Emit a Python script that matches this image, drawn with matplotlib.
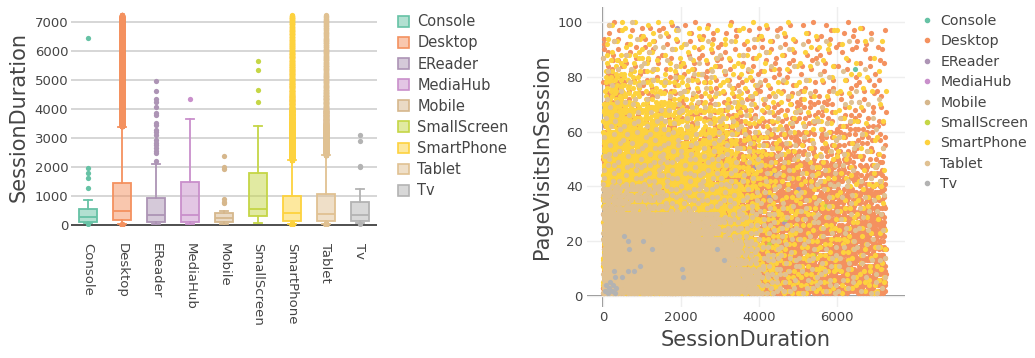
import numpy as np
import matplotlib.pyplot as plt
from matplotlib.patches import Patch
from matplotlib.lines import Line2D
from matplotlib.colors import to_rgba

plt.rcParams['font.family'] = ['DejaVu Sans']

devices = ['Console', 'Desktop', 'EReader', 'MediaHub', 'Mobile',
           'SmallScreen', 'SmartPhone', 'Tablet', 'Tv']
colors = ['#66c2a5', '#f4915f', '#ad94b5', '#c98fcb', '#d6b78c',
          '#c5d646', '#fdd23e', '#e0c192', '#b3b3b3']

# box summary per device (SessionDuration)
box_low = [58, 20, 20, 35, 35, 58, 35, 35, 58]
box_q1 = [115, 173, 115, 115, 115, 311, 149, 149, 149]
box_med = [265, 484, 334, 346, 230, 543, 405, 370, 346]
box_q3 = [542, 1465, 946, 1499, 400, 1810, 1003, 1073, 796]
box_high = [865, 3403, 2111, 3668, 484, 3436, 2249, 2412, 1246]

# sparse devices: (SessionDuration, PageVisitsInSession)
console_x = [30, 60, 90, 115, 150, 200, 240, 265, 300, 350, 420, 480, 540,
             600, 700, 865, 1269, 1615, 1788, 1961, 6459]
console_y = [2, 5, 3, 8, 12, 4, 6, 15, 9, 3, 20, 7, 11, 5, 14, 10, 22, 18,
             6, 25, 83]
ereader_x = [20, 45, 70, 100, 115, 150, 200, 260, 334, 380, 450, 520, 600,
             700, 800, 946, 1200, 1500, 1900, 2111, 2215, 2480, 2572, 2664,
             2757, 2849, 2941, 3114, 3230, 3300, 3449, 3541, 3818, 3887,
             4095, 4268, 4368, 4648, 4994]
ereader_y = [3, 6, 2, 9, 12, 5, 18, 7, 4, 22, 11, 8, 15, 27, 6, 19, 13, 30,
             98, 24, 17, 35, 21, 28, 40, 16, 33, 26, 38, 34, 29, 42, 25, 47,
             31, 36, 45, 27, 39]
mediahub_x = [35, 60, 90, 115, 180, 250, 346, 420, 600, 900, 1200, 1499,
              2000, 2600, 3100, 3668, 4360]
mediahub_y = [4, 8, 2, 11, 6, 15, 9, 21, 5, 13, 18, 26, 10, 31, 22, 17, 28]
mobile_x = [35, 60, 115, 150, 190, 230, 280, 330, 400, 484, 750, 807, 888,
            1938, 2018, 2399]
mobile_y = [3, 7, 2, 10, 5, 14, 8, 4, 12, 6, 18, 9, 15, 11, 20, 7]
smallscreen_x = [58, 150, 240, 311, 420, 543, 800, 1200, 1810, 2500, 3436,
                 4266, 4671, 5374, 5685]
smallscreen_y = [5, 12, 3, 18, 8, 25, 14, 31, 10, 22, 36, 19, 28, 15, 33]
tv_x = [40, 80, 120, 150, 180, 220, 260, 300, 330, 282, 308, 487, 540, 640,
        640, 675, 795, 946, 1017, 1246, 2018, 2052, 2917, 3114]
tv_y = [2, 4, 1, 3, 5, 2, 4, 1, 3, 9, 7, 7, 22, 9, 20, 17, 9, 11, 20, 17,
        10, 7, 17, 13]

# dense devices: point counts per cell, SessionDuration bins of 500 across,
# PageVisitsInSession rows of 10 from 90-100 (top) down to 0-10
x_edges = [0, 500, 1000, 1500, 2000, 2500, 3000, 3500, 4000, 4500, 5000,
           5500, 6000, 6500, 7000, 7250]
desktop_counts = [
    [8, 5, 5, 5, 5, 5, 5, 5, 5, 5, 5, 5, 5, 5, 2],
    [13, 7, 7, 7, 7, 7, 7, 7, 7, 7, 7, 6, 5, 5, 3],
    [20, 10, 10, 10, 8, 8, 8, 8, 8, 8, 8, 8, 7, 7, 3],
    [26, 15, 13, 13, 13, 13, 13, 13, 13, 13, 12, 12, 11, 10, 5],
    [32, 20, 20, 20, 20, 20, 22, 26, 26, 22, 20, 18, 16, 14, 7],
    [40, 30, 30, 30, 30, 30, 36, 42, 46, 42, 34, 30, 26, 22, 11],
    [48, 40, 40, 40, 40, 40, 45, 52, 56, 52, 48, 42, 36, 32, 16],
    [56, 48, 48, 48, 48, 48, 52, 58, 64, 60, 55, 48, 45, 42, 21],
    [64, 56, 56, 56, 56, 56, 56, 64, 72, 68, 60, 56, 52, 48, 24],
    [72, 64, 64, 64, 64, 64, 64, 72, 80, 76, 70, 64, 58, 54, 27],
]
smartphone_counts = [
    [6, 6, 6, 5, 5, 5, 5, 4, 3, 3, 3, 3, 2, 2, 1],
    [12, 11, 9, 8, 6, 6, 6, 5, 5, 4, 3, 3, 3, 2, 1],
    [28, 22, 16, 13, 11, 10, 8, 8, 6, 5, 5, 4, 3, 3, 1],
    [55, 48, 38, 30, 24, 20, 15, 11, 8, 6, 6, 5, 5, 3, 2],
    [75, 72, 66, 58, 48, 40, 28, 16, 10, 8, 6, 6, 5, 5, 2],
    [85, 85, 80, 75, 66, 56, 40, 22, 13, 10, 8, 8, 6, 5, 3],
    [85, 85, 85, 85, 76, 66, 50, 30, 14, 11, 10, 8, 8, 6, 3],
    [80, 80, 80, 80, 80, 70, 56, 40, 16, 13, 11, 10, 8, 6, 3],
    [80, 80, 80, 80, 80, 75, 64, 48, 19, 14, 13, 11, 10, 8, 4],
    [80, 80, 80, 80, 80, 80, 72, 56, 22, 16, 14, 13, 11, 10, 5],
]
tablet_counts = [
    [2, 2, 2, 2, 1, 1, 1, 1, 1, 1, 1, 1, 1, 1, 0],
    [3, 3, 3, 3, 3, 3, 2, 2, 2, 2, 1, 1, 1, 1, 0],
    [4, 4, 4, 4, 4, 3, 3, 3, 3, 3, 2, 2, 2, 1, 1],
    [6, 6, 6, 6, 5, 5, 4, 4, 3, 3, 3, 3, 3, 2, 1],
    [8, 8, 8, 8, 7, 7, 6, 5, 4, 4, 4, 4, 3, 3, 1],
    [11, 11, 11, 11, 10, 9, 8, 6, 5, 5, 5, 5, 4, 3, 2],
    [45, 40, 30, 18, 14, 12, 10, 8, 7, 6, 6, 5, 5, 4, 2],
    [90, 90, 90, 80, 70, 50, 22, 12, 10, 8, 6, 6, 5, 5, 2],
    [90, 90, 90, 90, 90, 90, 60, 25, 13, 8, 8, 6, 6, 5, 3],
    [90, 90, 90, 90, 90, 90, 90, 65, 16, 10, 8, 8, 6, 5, 3],
]

A1, A2 = 0.7548776662466927, 0.5698402909980532


def cell_points(counts, shift):
    counts = np.asarray(counts)[::-1]
    xs, ys = [], []
    for r in range(counts.shape[0]):
        for c in range(counts.shape[1]):
            k = np.arange(counts[r, c])
            off = (r * 0.31 + c * 0.17 + shift) % 1
            u = (off + A1 * k) % 1
            v = (off * 0.5 + A2 * k) % 1
            xs.append(x_edges[c] + u * (x_edges[c + 1] - x_edges[c]))
            ys.append(r * 10 + 1 + np.floor(v * 10))
    return np.concatenate(xs), np.concatenate(ys)


desktop_x, desktop_y = cell_points(desktop_counts, 0.0)
smartphone_x, smartphone_y = cell_points(smartphone_counts, 0.43)
tablet_x, tablet_y = cell_points(tablet_counts, 0.77)

xs = [console_x, desktop_x, ereader_x, mediahub_x, mobile_x, smallscreen_x,
      smartphone_x, tablet_x, tv_x]
ys = [console_y, desktop_y, ereader_y, mediahub_y, mobile_y, smallscreen_y,
      smartphone_y, tablet_y, tv_y]

txt = '#444444'
fig = plt.figure(figsize=(10.35, 3.58), dpi=100)

# ---- box plot ----
ax1 = fig.add_axes([71 / 1035, (358 - 226) / 358, 306 / 1035, 218 / 358])
for i, d in enumerate(devices):
    x = np.asarray(xs[i], dtype=float)
    st = dict(whislo=box_low[i], q1=box_q1[i], med=box_med[i],
              q3=box_q3[i], whishi=box_high[i],
              fliers=x[(x > box_high[i]) | (x < box_low[i])])
    c = colors[i]
    ax1.bxp([st], positions=[i], widths=0.52, capwidths=0.26,
            patch_artist=True, manage_ticks=False,
            boxprops=dict(facecolor=to_rgba(c, 0.5), edgecolor=c, lw=1.3),
            medianprops=dict(color=c, lw=1.3),
            whiskerprops=dict(color=c, lw=1.3),
            capprops=dict(color=c, lw=1.3),
            flierprops=dict(marker='o', markersize=3.8, markerfacecolor=c,
                            markeredgecolor='none'))
ax1.set_xlim(-0.5, 8.5)
ax1.set_ylim(-35, 7500)
ax1.set_yticks(range(0, 8000, 1000))
ax1.set_xticks(range(9))
ax1.set_xticklabels(devices, rotation=-90, fontsize=9.5, color=txt)
ax1.tick_params(axis='x', length=0, pad=12)
ax1.tick_params(axis='y', length=0, pad=2, labelsize=9.5, labelcolor=txt)
ax1.grid(axis='y', color='#cccccc', lw=1.1)
ax1.set_axisbelow(True)
ax1.axhline(0, color='#444444', lw=1.3, zorder=1)
for s in ax1.spines.values():
    s.set_visible(False)
ax1.set_ylabel('SessionDuration', fontsize=15, color=txt, labelpad=4)

h1 = [Patch(facecolor=to_rgba(c, 0.5), edgecolor=c, lw=1.2) for c in colors]
fig.legend(h1, devices, loc='upper left', bbox_to_anchor=(391 / 1035, 1 - 7 / 358),
           frameon=False, fontsize=10.5, handlelength=0.75, handleheight=0.75,
           handletextpad=0.55, labelspacing=0.42, borderpad=0, labelcolor=txt)

# ---- scatter ----
ax2 = fig.add_axes([587 / 1035, (358 - 307) / 358, 318 / 1035, 300 / 358])
for i, d in enumerate(devices):
    ax2.scatter(xs[i], ys[i], s=14, color=colors[i], lw=0, label=d)
ax2.set_xlim(-410, 7744)
ax2.set_ylim(-4, 105.5)
ax2.set_xticks([0, 2000, 4000, 6000])
ax2.set_yticks(range(0, 101, 20))
ax2.grid(color='#eeeeee', lw=1)
ax2.set_axisbelow(True)
ax2.axhline(0, color='#777777', lw=1.2, zorder=0.5)
ax2.axvline(0, color='#777777', lw=1.2, zorder=0.5)
for s in ax2.spines.values():
    s.set_visible(False)
ax2.tick_params(length=0, labelsize=9.5, labelcolor=txt, pad=3)
ax2.set_xlabel('SessionDuration', fontsize=15, color=txt, labelpad=4)
ax2.set_ylabel('PageVisitsInSession', fontsize=15, color=txt, labelpad=4)

h2 = [Line2D([], [], ls='none', marker='o', markersize=3, color=c) for c in colors]
fig.legend(h2, devices, loc='upper left', bbox_to_anchor=(914 / 1035, 1 - 7 / 358),
           frameon=False, fontsize=10.2, handlelength=0.8, handletextpad=0.55,
           labelspacing=0.45, borderpad=0, labelcolor=txt)

fig.savefig('out.png', dpi=100)
